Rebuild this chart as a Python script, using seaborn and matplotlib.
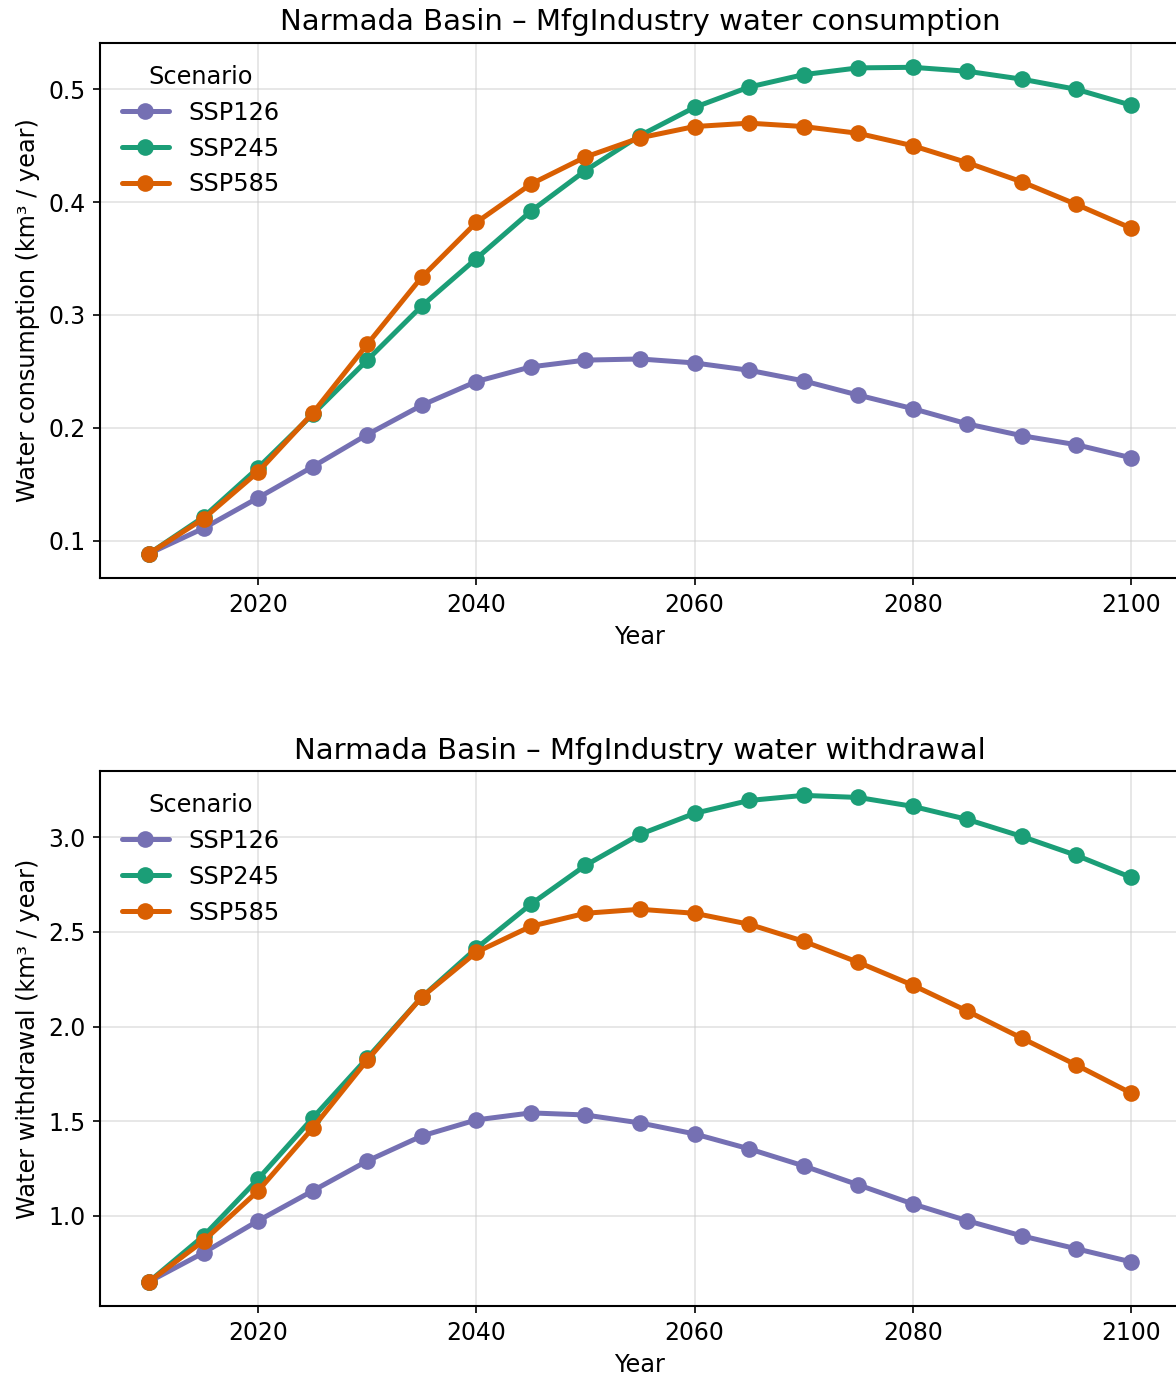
import pandas as pd
import matplotlib
matplotlib.use("Agg")
import matplotlib.pyplot as plt
import seaborn as sns

# ----------------------------------------------
# data
# ----------------------------------------------
years = list(range(2010, 2101, 5))
scenarios = ["SSP126", "SSP245", "SSP585"]

consumption_ssp126 = [0.0885, 0.111, 0.138, 0.1655, 0.194, 0.220, 0.241, 0.254, 0.260, 0.261,
                      0.2575, 0.251, 0.2416, 0.229, 0.217, 0.2035, 0.193, 0.185, 0.1735]
consumption_ssp245 = [0.0885, 0.121, 0.1646, 0.212, 0.260, 0.308, 0.350, 0.392, 0.428, 0.459,
                      0.484, 0.502, 0.513, 0.519, 0.5195, 0.516, 0.509, 0.500, 0.486]
consumption_ssp585 = [0.0885, 0.1195, 0.161, 0.213, 0.274, 0.3336, 0.382, 0.416, 0.440, 0.457,
                      0.467, 0.470, 0.467, 0.461, 0.450, 0.435, 0.418, 0.398, 0.377]

withdrawal_ssp126 = [0.652, 0.805, 0.974, 1.132, 1.29, 1.422, 1.507, 1.544, 1.533, 1.491,
                     1.433, 1.354, 1.264, 1.164, 1.063, 0.974, 0.894, 0.826, 0.757]
withdrawal_ssp245 = [0.652, 0.894, 1.195, 1.517, 1.834, 2.156, 2.414, 2.647, 2.852, 3.016,
                     3.127, 3.195, 3.222, 3.211, 3.164, 3.095, 3.005, 2.905, 2.789]
withdrawal_ssp585 = [0.652, 0.868, 1.132, 1.464, 1.823, 2.156, 2.393, 2.530, 2.599, 2.620,
                     2.599, 2.541, 2.451, 2.340, 2.219, 2.082, 1.939, 1.797, 1.649]

palette = {"SSP126": "#7570b3", "SSP245": "#1b9e77", "SSP585": "#d95f02"}


def to_long(series_list):
    frames = []
    for name, vals in zip(scenarios, series_list):
        frames.append(pd.DataFrame({"Year": years, "value": vals, "Scenario": name}))
    return pd.concat(frames, ignore_index=True)


df_cons = to_long([consumption_ssp126, consumption_ssp245, consumption_ssp585])
df_with = to_long([withdrawal_ssp126, withdrawal_ssp245, withdrawal_ssp585])

# ----------------------------------------------
# style
# ----------------------------------------------
sns.set_style("ticks")
plt.rcParams.update({
    "font.family": ["DejaVu Sans"],
    "font.size": 11.5,
    "axes.titlesize": 14,
    "axes.labelsize": 11.5,
    "xtick.labelsize": 11.3,
    "ytick.labelsize": 11.3,
    "legend.fontsize": 11.5,
    "legend.title_fontsize": 11.5,
    "axes.edgecolor": "black",
    "xtick.color": "black",
    "ytick.color": "black",
    "text.color": "black",
    "axes.labelcolor": "black",
})

fig = plt.figure(figsize=(1176 / 150, 1378 / 150), dpi=150)
ax1 = fig.add_axes([0.0850, 0.5806, 0.9184, 0.3882])
ax2 = fig.add_axes([0.0850, 0.05225, 0.9184, 0.3882])

panels = [
    (ax1, df_cons, "Narmada Basin – MfgIndustry water consumption",
     "Water consumption (km³ / year)"),
    (ax2, df_with, "Narmada Basin – MfgIndustry water withdrawal",
     "Water withdrawal (km³ / year)"),
]

for ax, df, title, ylabel in panels:
    sns.lineplot(
        data=df, x="Year", y="value", hue="Scenario", hue_order=scenarios,
        palette=palette, marker="o", markersize=8, linewidth=2.4,
        markeredgewidth=0, ax=ax
    )
    ax.set_title(title)
    ax.set_xlabel("Year")
    ax.set_ylabel(ylabel)
    ax.set_xticks([2020, 2040, 2060, 2080, 2100])
    ax.grid(True, color="#cccccc", alpha=0.5, linewidth=0.9)
    ax.legend(title="Scenario", loc="upper left", frameon=False)
    for s in ax.spines.values():
        s.set_linewidth(1.0)

fig.savefig("out.png", dpi=150)
